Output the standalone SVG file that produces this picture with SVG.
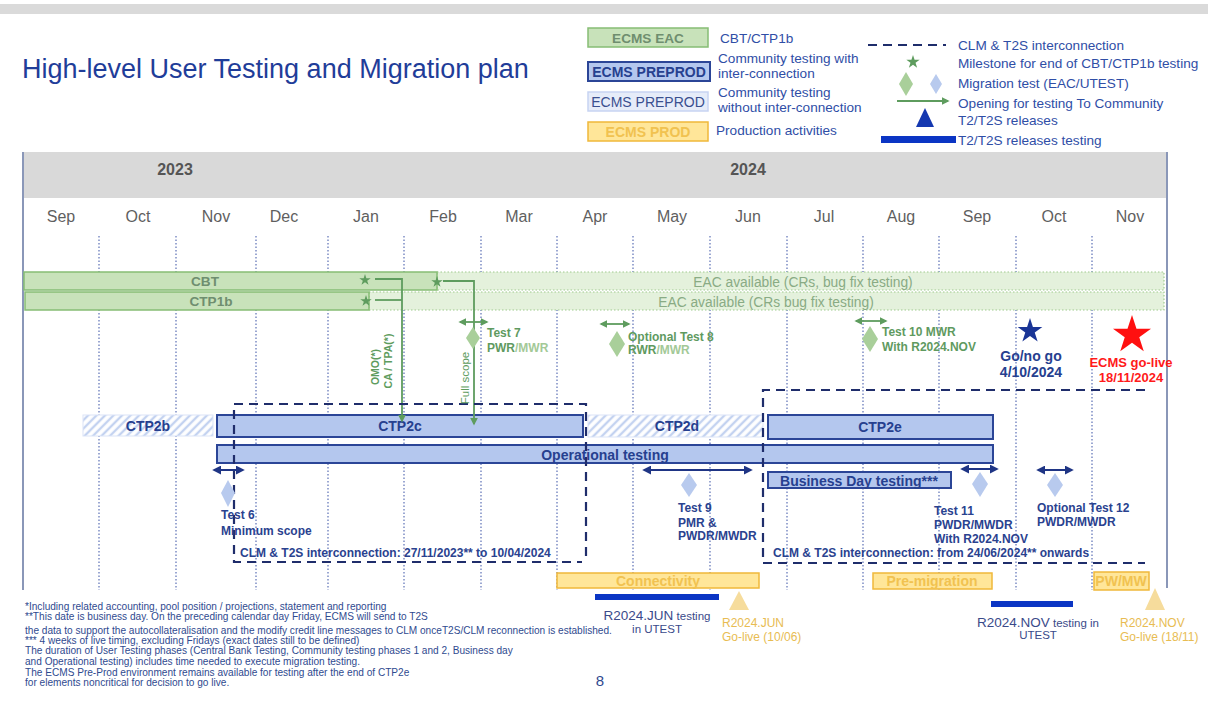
<svg xmlns="http://www.w3.org/2000/svg" width="1208" height="702" viewBox="0 0 1208 702">
<style>
text{font-family:"Liberation Sans",Arial,sans-serif}
.mon{font-size:16px;fill:#5f5f5f}
.yr{font-size:16px;font-weight:bold;fill:#555}
.leg{font-size:13.6px;fill:#2f4ea6}
.grn{fill:#c8e2ba;stroke:#86bd74;stroke-width:1.5}
.eac{fill:#e4f1dc;stroke:#9fcb8e;stroke-width:1.2;stroke-dasharray:1.5 2}
.blu{fill:#b4c7ee;stroke:#2b4597;stroke-width:2}
.hat{fill:url(#hatch);stroke:#dbe4f7;stroke-width:1}
.prd{fill:#ffe699;stroke:#f0b83a;stroke-width:1.5}
.rel{fill:#0b35c4}
.tri{fill:#f6dc9c}
.bl{font-size:14px;font-weight:bold;fill:#26408f;text-anchor:middle}
.gl{font-size:13.6px;font-weight:bold;fill:#6f8e6f;text-anchor:middle}
.pl{font-size:14px;font-weight:bold;fill:#f1c250;text-anchor:middle}
.tb{font-size:12px;font-weight:bold;fill:#2a428f}
.tg{font-size:12px;font-weight:bold;fill:#5f9a5f}
.tgl{fill:#a3c997}
.dash{fill:none;stroke:#1f2d6b;stroke-width:2.2;stroke-dasharray:9 6}
.vl{stroke:#5b6fb5;stroke-width:1.2;stroke-dasharray:1.5 2}
.garr{fill:none;stroke:#5e9c5e;stroke-width:1.8}
.barr{fill:none;stroke:#1f3585;stroke-width:2}
.dg{fill:#a9cf9a}
.db{fill:#b8caee}
.fn{font-size:10.1px;fill:#2f4a8f}
.rl{font-size:11.5px;fill:#3a4a8a;text-anchor:middle}
.gold{font-size:12px;fill:#e8bc52}
</style>
<defs>
<pattern id="hatch" patternUnits="userSpaceOnUse" width="6" height="6" patternTransform="rotate(45)">
<rect width="6" height="6" fill="#ffffff"/>
<line x1="2" y1="0" x2="2" y2="6" stroke="#c3d2f0" stroke-width="2.4"/>
</pattern>
<path id="star" d="M0,-1 L0.2245,-0.309 L0.951,-0.309 L0.363,0.118 L0.588,0.809 L0,0.382 L-0.588,0.809 L-0.363,0.118 L-0.951,-0.309 L-0.2245,-0.309 Z"/>
<marker id="ga" viewBox="0 0 10 10" refX="8" refY="5" markerWidth="4.5" markerHeight="4.5" orient="auto-start-reverse"><path d="M0,0 L10,5 L0,10 Z" fill="#5e9c5e"/></marker>
<marker id="ba" viewBox="0 0 10 10" refX="8" refY="5" markerWidth="4.5" markerHeight="4.5" orient="auto-start-reverse"><path d="M0,0 L10,5 L0,10 Z" fill="#1f3585"/></marker>
</defs>

<rect x="0" y="0" width="1208" height="702" fill="#ffffff"/>
<rect x="0" y="4" width="1208" height="10" fill="#dadada"/>

<g id="title"><text x="22" y="78" font-size="27" fill="#1f3d99">High-level User Testing and Migration plan</text></g>

<g id="legend">
<rect x="588" y="28" width="120" height="19" class="grn"/>
<text x="648" y="42.5" class="gl" fill="#6a9a6a">ECMS EAC</text>
<text x="720" y="43" class="leg">CBT/CTP1b</text>
<rect x="588" y="62" width="122" height="19" class="blu"/>
<text x="649" y="76.5" class="bl" fill="#1f3a8f">ECMS PREPROD</text>
<text x="718" y="63" class="leg">Community testing with</text>
<text x="718" y="78" class="leg">inter-connection</text>
<rect x="588" y="92" width="120" height="19" fill="#e6ecf9" stroke="#c7d4f2" stroke-width="1.5"/>
<text x="648" y="106.5" font-size="14" fill="#3a4f8f" text-anchor="middle">ECMS PREPROD</text>
<text x="718" y="97" class="leg">Community testing</text>
<text x="718" y="112" class="leg">without inter-connection</text>
<rect x="588" y="122" width="120" height="19" class="prd"/>
<text x="648" y="136.5" class="pl" font-size="13">ECMS PROD</text>
<text x="716" y="135" class="leg">Production activities</text>
<line x1="868" y1="45" x2="946" y2="45" class="dash"/>
<text x="958" y="50" class="leg">CLM &amp; T2S interconnection</text>
<use href="#star" transform="translate(913,62) scale(7)" fill="#5e9c5e"/>
<text x="958" y="68" class="leg">Milestone for end of CBT/CTP1b testing</text>
<path d="M906,72 L913,84 L906,96 L899,84 Z" class="dg"/>
<path d="M936,74 L942,84 L936,94 L930,84 Z" class="db"/>
<text x="958" y="88" class="leg">Migration test (EAC/UTEST)</text>
<line x1="897" y1="101" x2="948" y2="101" class="garr" marker-end="url(#ga)"/>
<text x="958" y="108" class="leg">Opening for testing To Community</text>
<path d="M925,108 L934,127 L916,127 Z" fill="#1538b0"/>
<text x="958" y="125" class="leg">T2/T2S releases</text>
<rect x="881" y="136" width="75" height="7" class="rel"/>
<text x="958" y="145" class="leg">T2/T2S releases testing</text>
</g>

<g id="timeline">
<rect x="23" y="152" width="1143" height="46" fill="#d9d9d9"/>
<line x1="23" y1="152" x2="23" y2="590" stroke="#8a97b8" stroke-width="2"/>
<line x1="1167" y1="152" x2="1167" y2="588" stroke="#8a97b8" stroke-width="2"/>
<text x="175" y="175" class="yr" text-anchor="middle">2023</text>
<text x="748" y="175" class="yr" text-anchor="middle">2024</text>
<g class="mon" text-anchor="middle">
<text x="61" y="222">Sep</text><text x="138" y="222">Oct</text><text x="216" y="222">Nov</text><text x="284" y="222">Dec</text><text x="366" y="222">Jan</text><text x="443" y="222">Feb</text><text x="519" y="222">Mar</text><text x="595" y="222">Apr</text><text x="672" y="222">May</text><text x="748" y="222">Jun</text><text x="824" y="222">Jul</text><text x="901" y="222">Aug</text><text x="977" y="222">Sep</text><text x="1054" y="222">Oct</text><text x="1130" y="222">Nov</text>
</g>
<g>
<line x1="99" y1="236" x2="99" y2="590" class="vl"/><line x1="176" y1="236" x2="176" y2="590" class="vl"/><line x1="256" y1="236" x2="256" y2="590" class="vl"/><line x1="328" y1="236" x2="328" y2="590" class="vl"/><line x1="404" y1="236" x2="404" y2="590" class="vl"/><line x1="481" y1="236" x2="481" y2="590" class="vl"/><line x1="557" y1="236" x2="557" y2="590" class="vl"/><line x1="633" y1="236" x2="633" y2="590" class="vl"/><line x1="710" y1="236" x2="710" y2="590" class="vl"/><line x1="787" y1="236" x2="787" y2="590" class="vl"/><line x1="863" y1="236" x2="863" y2="590" class="vl"/><line x1="939" y1="236" x2="939" y2="590" class="vl"/><line x1="1016" y1="236" x2="1016" y2="590" class="vl"/><line x1="1092" y1="236" x2="1092" y2="590" class="vl"/>
</g>
</g>

<g id="eac-cbt"><rect x="437" y="272" width="727" height="18" class="eac"/><text x="803" y="286.5" font-size="13.8" fill="#89ab84" text-anchor="middle">EAC available (CRs, bug fix testing)</text></g>
<g id="eac-ctp1b"><rect x="369" y="292" width="795" height="18" class="eac"/><text x="766" y="306.5" font-size="13.8" fill="#89ab84" text-anchor="middle">EAC available (CRs bug fix testing)</text></g>
<g id="cbt"><rect x="24" y="272" width="413" height="18" class="grn"/><text x="205" y="286" class="gl">CBT</text></g>
<g id="ctp1b"><rect x="25" y="292" width="344" height="18" class="grn"/><text x="211" y="306" class="gl">CTP1b</text></g>

<g id="ctp2b"><rect x="83" y="415" width="130" height="21" class="hat"/><text x="148" y="430.5" class="bl" fill="#4a5c92">CTP2b</text></g>
<g id="ctp2c"><rect x="217" y="415" width="366" height="22" class="blu"/><text x="400" y="431" class="bl">CTP2c</text></g>
<g id="ctp2d"><rect x="588" y="415" width="175" height="22" class="hat"/><text x="677" y="431" class="bl">CTP2d</text></g>
<g id="ctp2e"><rect x="768" y="415" width="225" height="24" class="blu"/><text x="880" y="432" class="bl">CTP2e</text></g>
<g id="operational"><rect x="217" y="445" width="776" height="18" class="blu"/><text x="605" y="459.5" class="bl" font-size="14.5">Operational testing</text></g>
<g id="business-day"><rect x="768" y="472" width="183" height="16" class="blu"/><text x="859" y="485.5" class="bl" font-size="14.5">Business Day testing***</text></g>

<g id="connectors">
<path d="M375,279 L402,279 L402,421" class="garr" marker-end="url(#ga)"/>
<path d="M375,300 L402,300" class="garr"/>
<path d="M443,281 L474,281 L474,424" class="garr" marker-end="url(#ga)"/>
<path d="M586,556 L586,404 L234,404 L234,562 L582,562" class="dash"/>
<path d="M1145,390 L763,390 L763,563 L1145,563" class="dash"/>
<line x1="460" y1="322" x2="487" y2="322" class="garr" marker-start="url(#ga)" marker-end="url(#ga)"/>
<line x1="601" y1="324" x2="629" y2="324" class="garr" marker-start="url(#ga)" marker-end="url(#ga)"/>
<line x1="856" y1="321" x2="886" y2="321" class="garr" marker-start="url(#ga)" marker-end="url(#ga)"/>
<line x1="214" y1="470" x2="243" y2="470" class="barr" marker-start="url(#ba)" marker-end="url(#ba)"/>
<line x1="644" y1="470" x2="751" y2="470" class="barr" marker-start="url(#ba)" marker-end="url(#ba)"/>
<line x1="962" y1="469" x2="997" y2="469" class="barr" marker-start="url(#ba)" marker-end="url(#ba)"/>
<line x1="1038" y1="470" x2="1072" y2="470" class="barr" marker-start="url(#ba)" marker-end="url(#ba)"/>
</g>

<g id="milestones">
<use href="#star" transform="translate(365,280) scale(6)" fill="#5e9c5e"/>
<use href="#star" transform="translate(366,301) scale(6)" fill="#5e9c5e"/>
<use href="#star" transform="translate(437,282) scale(6)" fill="#5e9c5e"/>
</g>
<g id="labels-vert">
<text transform="translate(379,367) rotate(-90)" font-size="10.5" font-weight="bold" fill="#5e9c5e" text-anchor="middle">OMO(*)</text>
<text transform="translate(392,361) rotate(-90)" font-size="10.5" font-weight="bold" fill="#5e9c5e" text-anchor="middle">CA / TPA(*)</text>
<text transform="translate(469,378) rotate(-90)" font-size="11.5" fill="#5e9c5e" text-anchor="middle">Full scope</text>
</g>

<g id="test7"><path d="M473,327 L480,338 L473,349 L466,338 Z" class="dg"/><text x="487" y="337" class="tg">Test 7</text><text x="487" y="352" class="tg">PWR<tspan class="tgl">/MWR</tspan></text></g>
<g id="test8"><path d="M617,331 L625,344 L617,357 L609,344 Z" class="dg"/><text x="628" y="341" class="tg">Optional Test 8</text><text x="628" y="354" class="tg">RWR<tspan class="tgl">/MWR</tspan></text></g>
<g id="test10"><path d="M870,326 L878,339 L870,352 L862,339 Z" class="dg"/><text x="882" y="336" class="tg">Test 10 MWR</text><text x="882" y="351" class="tg">With R2024.NOV</text></g>

<g id="gonogo"><use href="#star" transform="translate(1030,331) scale(13)" fill="#1a3596"/><text x="1031" y="361" class="bl" font-size="13.5">Go/no go</text><text x="1031" y="377" class="bl" font-size="13.5">4/10/2024</text></g>
<g id="golive"><use href="#star" transform="translate(1132,335) scale(20)" fill="#ff1010"/><text x="1131" y="367" font-size="13" font-weight="bold" fill="#ff1a1a" text-anchor="middle">ECMS go-live</text><text x="1131" y="382" font-size="13" font-weight="bold" fill="#ff1a1a" text-anchor="middle">18/11/2024</text></g>

<g id="test6"><path d="M228,480 L235,493 L228,507 L221,493 Z" class="db"/><text x="221" y="519" class="tb">Test 6</text><text x="221" y="535" class="tb">Minimum scope</text></g>
<g id="test9"><path d="M689,473 L697,485 L689,497 L681,485 Z" class="db"/><text x="678" y="512" class="tb">Test 9</text><text x="678" y="527" class="tb">PMR &amp;</text><text x="678" y="540" class="tb">PWDR/MWDR</text></g>
<g id="test11"><path d="M980,472 L988,484 L980,497 L972,484 Z" class="db"/><text x="934" y="515" class="tb">Test 11</text><text x="934" y="529" class="tb">PWDR/MWDR</text><text x="934" y="543" class="tb">With R2024.NOV</text></g>
<g id="test12"><path d="M1055,473 L1063,485 L1055,497 L1047,485 Z" class="db"/><text x="1037" y="512" class="tb">Optional Test 12</text><text x="1037" y="526" class="tb">PWDR/MWDR</text></g>

<g id="clm1"><text x="240" y="557" class="tb">CLM &amp; T2S interconnection: 27/11/2023** to 10/04/2024</text></g>
<g id="clm2"><text x="773" y="557" class="tb">CLM &amp; T2S interconnection: from 24/06/2024** onwards</text></g>

<g id="connectivity"><rect x="557" y="573" width="202" height="15" class="prd"/><text x="658" y="585.5" class="pl">Connectivity</text></g>
<g id="premigration"><rect x="873" y="573" width="119" height="16" class="prd"/><text x="932" y="586" class="pl">Pre-migration</text></g>
<g id="pwmw"><rect x="1094" y="572" width="55" height="18" class="prd"/><text x="1121" y="586" class="pl">PW/MW</text></g>

<g id="r2024jun-test"><rect x="595" y="594" width="124" height="6" class="rel"/><text x="657" y="620" class="rl"><tspan font-size="13.5">R2024.JUN</tspan> testing</text><text x="657" y="633" class="rl">in UTEST</text></g>
<g id="r2024nov-test"><rect x="991" y="601" width="82" height="6" class="rel"/><text x="1038" y="627" class="rl"><tspan font-size="13.5">R2024.NOV</tspan> testing in</text><text x="1038" y="639" class="rl">UTEST</text></g>
<g id="r2024jun-live"><path d="M739,591 L749,610 L729,610 Z" class="tri"/><text x="722" y="627" class="gold">R2024.JUN</text><text x="722" y="641" class="gold">Go-live (10/06)</text></g>
<g id="r2024nov-live"><path d="M1155,588 L1165,610 L1145,610 Z" class="tri"/><text x="1120" y="627" class="gold">R2024.NOV</text><text x="1120" y="641" class="gold">Go-live (18/11)</text></g>

<g id="footnotes" class="fn">
<text x="25" y="610">*Including related accounting, pool position / projections, statement and reporting</text>
<text x="25" y="620">**This date is business day. On the preceding calendar day Friday, ECMS will send to T2S</text>
<text x="25" y="634">the data to support the autocollateralisation and the modify credit line messages to CLM onceT2S/CLM reconnection is established.</text>
<text x="25" y="644">*** 4 weeks of live timing, excluding Fridays (exact dates still to be defined)</text>
<text x="25" y="654">The duration of User Testing phases (Central Bank Testing, Community testing phases 1 and 2, Business day</text>
<text x="25" y="665">and Operational testing) includes time needed to execute migration testing.</text>
<text x="25" y="676">The ECMS Pre-Prod environment remains available for testing after the end of CTP2e</text>
<text x="25" y="686">for elements noncritical for decision to go live.</text>
</g>
<g id="page"><text x="600" y="686" font-size="15" fill="#2f4a8f" text-anchor="middle">8</text></g>
</svg>
